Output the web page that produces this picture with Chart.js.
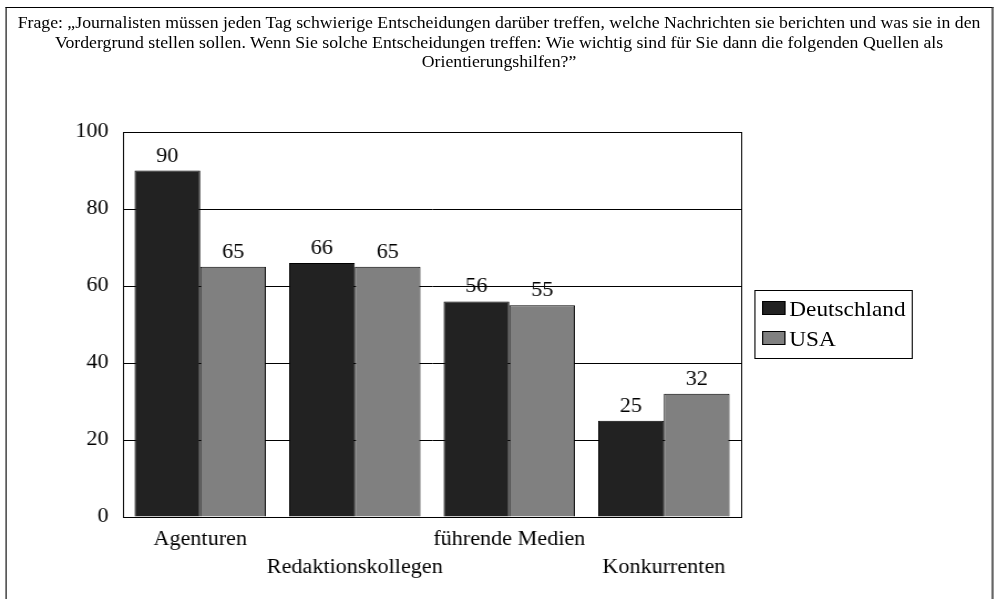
<!DOCTYPE html>
<html>
<head>
<meta charset="utf-8">
<script src="https://cdn.jsdelivr.net/npm/chart.js@4"></script>
<style>
  body { margin: 0; background: #fff; overflow: hidden; }
  /* the original is a horizontally stretched Times chart: draw at 900px wide, stretch to 997px */
  #stage {
    position: absolute; left: 0; top: 0; width: 900px; height: 599px;
    transform: scaleX(1.10778); transform-origin: 0 0;
  }
  #frame {
    position: absolute; left: 4.5px; top: 7px; width: 892px; height: 600px;
    border: 1px solid #000; border-right: 2px solid #666; box-sizing: border-box;
  }
  #title {
    position: absolute; left: 4.5px; top: 13px; width: 892px;
    font-family: "Liberation Serif", "Times New Roman", Times, serif;
    font-size: 16px; line-height: 19.5px;
    text-align: center; color: #000;
  }
  #chart { position: absolute; left: 0; top: 0; }
  #legend {
    position: absolute; left: 680.5px; top: 290px; width: 143px; height: 69px;
    border: 1px solid #000; box-sizing: border-box;
    font-family: "Liberation Serif", "Times New Roman", Times, serif; font-size: 21px; color: #000;
  }
  .item { position: absolute; left: 6px; height: 24px; line-height: 24px; white-space: nowrap; }
  .sw { display: inline-block; width: 19px; height: 12px; border: 1px solid #000; margin-right: 4px; vertical-align: 1px; }
</style>
</head>
<body>
<div id="stage">
  <div id="frame"></div>
  <div id="title">Frage: „Journalisten müssen jeden Tag schwierige Entscheidungen darüber treffen, welche Nachrichten sie berichten und was sie in den<br>Vordergrund stellen sollen. Wenn Sie solche Entscheidungen treffen: Wie wichtig sind für Sie dann die folgenden Quellen als<br>Orientierungshilfen?”</div>
  <canvas id="chart" width="900" height="599"></canvas>
  <div id="legend">
    <div class="item" style="top:6px"><span class="sw" style="background:#222222"></span>Deutschland</div>
    <div class="item" style="top:36px"><span class="sw" style="background:#808080"></span>USA</div>
  </div>
</div>
<script>
const categories = ['Agenturen', 'Redaktionskollegen', 'führende Medien', 'Konkurrenten'];
const deutschland = [90, 66, 56, 25];
const usa = [65, 65, 55, 32];
const yTicks = [0, 20, 40, 60, 80, 100];

const serif = '"Liberation Serif", "Times New Roman", Times, serif';

// staggered category labels: every second one goes to the lower row
const staggered = categories.map((c, i) => i % 2 === 0 ? [c, ''] : ['', c]);

const plotFrame = {
    id: 'plotFrame',
    afterDraw(chart) {
        const a = chart.chartArea;
        const ctx = chart.ctx;
        ctx.save();
        ctx.strokeStyle = '#000';
        ctx.lineWidth = 1;
        ctx.strokeRect(a.left + 0.5, a.top + 0.5, a.right - a.left, a.bottom - a.top);
        ctx.restore();
    }
};

const valueLabels = {
    id: 'valueLabels',
    afterDatasetsDraw(chart) {
        const ctx = chart.ctx;
        ctx.save();
        ctx.font = '20px ' + serif;
        ctx.fillStyle = '#000';
        ctx.textAlign = 'center';
        ctx.textBaseline = 'alphabetic';
        chart.data.datasets.forEach((ds, di) => {
            chart.getDatasetMeta(di).data.forEach((bar, i) => {
                ctx.fillText(ds.data[i], bar.x, bar.y - 9);
            });
        });
        ctx.restore();
    }
};

new Chart(document.getElementById('chart'), {
    type: 'bar',
    data: {
        labels: staggered,
        datasets: [
            {
                label: 'Deutschland',
                data: deutschland,
                backgroundColor: '#222222',
                borderColor: '#000',
                borderWidth: 1,
                categoryPercentage: 0.85,
                barPercentage: 1
            },
            {
                label: 'USA',
                data: usa,
                backgroundColor: '#808080',
                borderColor: '#000',
                borderWidth: 1,
                categoryPercentage: 0.85,
                barPercentage: 1
            }
        ]
    },
    options: {
        responsive: false,
        animation: false,
        devicePixelRatio: 1,
        layout: { padding: { top: 132, right: 231, left: 0, bottom: 0 } },
        plugins: {
            legend: { display: false },
            tooltip: { enabled: false },
            title: { display: false }
        },
        scales: {
            x: {
                grid: { display: false, drawTicks: false },
                border: { display: true, color: '#000' },
                ticks: {
                    color: '#000',
                    font: { family: serif, size: 20, lineHeight: 1.4 },
                    padding: 9,
                    maxRotation: 0,
                    autoSkip: false
                },
                afterFit(scale) { scale.height = 82; }
            },
            y: {
                min: 0,
                max: 100,
                afterBuildTicks(scale) { scale.ticks = yTicks.map(v => ({ value: v })); },
                grid: { color: '#000', drawTicks: false },
                border: { display: true, color: '#000' },
                ticks: {
                    color: '#000',
                    font: { family: serif, size: 20 },
                    padding: 13
                },
                afterFit(scale) { scale.width = 111; }
            }
        }
    },
    plugins: [plotFrame, valueLabels]
});
</script>
</body>
</html>
